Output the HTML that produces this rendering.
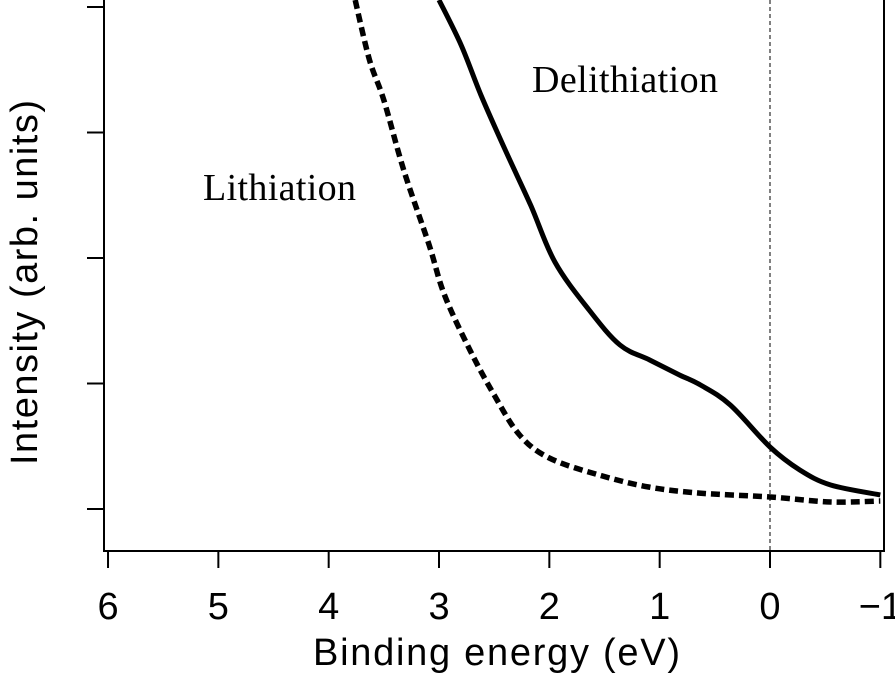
<!DOCTYPE html>
<html><head><meta charset="utf-8"><style>
body{margin:0;background:#fff;width:895px;height:673px;overflow:hidden}
svg{display:block}
</style></head><body>
<svg id="chart" width="895" height="673" xmlns="http://www.w3.org/2000/svg">
<defs><clipPath id="plotclip"><rect x="104" y="0" width="780" height="550"/></clipPath></defs>
<g id="axes"></g>
<g id="series" clip-path="url(#plotclip)"></g>
<text x="532" y="92" font-family="Liberation Serif, serif" font-size="38" textLength="186">Delithiation</text>
<text x="203" y="200" font-family="Liberation Serif, serif" font-size="38" textLength="153">Lithiation</text>
<text x="313" y="665" font-family="Liberation Sans, sans-serif" font-size="38" textLength="367">Binding energy (eV)</text>
<text transform="translate(37,465) rotate(-90)" font-family="Liberation Sans, sans-serif" font-size="38" textLength="365">Intensity (arb. units)</text>
</svg>
<script>
const xTicks=[6,5,4,3,2,1,0,-1];
const xTickLabels=["6","5","4","3","2","1","0","\u22121"];
const yTicks=[1,2,3,4,5];
const delithE=[3.0,2.8,2.62,2.4,2.17,1.95,1.64,1.36,1.09,0.82,0.63,0.36,0,-0.27,-0.55,-1.0];
const delithI=[5.056,4.697,4.299,3.861,3.422,2.968,2.586,2.307,2.187,2.068,1.988,1.829,1.494,1.311,1.191,1.112];
const lithE=[3.76,3.63,3.5,3.32,3.09,2.95,2.72,2.5,2.27,2.0,1.55,1.1,0.64,0,-0.55,-1.0];
const lithI=[5.056,4.578,4.259,3.701,3.104,2.705,2.267,1.908,1.590,1.406,1.271,1.175,1.127,1.096,1.056,1.064];
const NS="http://www.w3.org/2000/svg";
function xs(e){return 770-e*110.33;}
function ys(v){return 509-(v-1)*125.5;}
function mk(t,a,p){const el=document.createElementNS(NS,t);for(const k in a)el.setAttribute(k,a[k]);p.appendChild(el);return el;}
const axes=document.getElementById('axes');
let l=mk('line',{x1:104,y1:0,x2:104,y2:551,stroke:'#000','stroke-width':2},axes);


l=mk('line',{x1:103,y1:551,x2:885,y2:551,stroke:'#000','stroke-width':2},axes);


l=mk('line',{x1:884,y1:0,x2:884,y2:551,stroke:'#000','stroke-width':2},axes);


l=mk('line',{x1:xs(0),y1:0,x2:xs(0),y2:551,stroke:'#000','stroke-width':1,'stroke-dasharray':'4,3'},axes);


xTicks.forEach((t,i)=>{
 const x=xs(t);
 const tk=mk('line',{x1:x,y1:551,x2:x,y2:568,stroke:'#000','stroke-width':2},axes);
 
 
 const tx=mk('text',{x:x,y:619,'text-anchor':'middle','font-family':'Liberation Sans, sans-serif','font-size':38},axes);
 tx.textContent=xTickLabels[i];
 
 
});
yTicks.forEach(t=>{
 const y=ys(t);
 const tk=mk('line',{x1:87,y1:y,x2:104,y2:y,stroke:'#000','stroke-width':2},axes);
 
 
});
const g=document.getElementById('series');
function path(E,I){
 const P=E.map((e,i)=>[xs(e),ys(I[i])]);
 let d='M'+P[0][0].toFixed(1)+','+P[0][1].toFixed(1);
 for(let i=0;i<P.length-1;i++){
  const p0=P[Math.max(0,i-1)],p1=P[i],p2=P[i+1],p3=P[Math.min(P.length-1,i+2)];
  const c1=[p1[0]+(p2[0]-p0[0])/6,p1[1]+(p2[1]-p0[1])/6];
  const c2=[p2[0]-(p3[0]-p1[0])/6,p2[1]-(p3[1]-p1[1])/6];
  d+=' C'+c1.map(v=>v.toFixed(1)).join(',')+' '+c2.map(v=>v.toFixed(1)).join(',')+' '+p2.map(v=>v.toFixed(1)).join(',');
 }
 return d;
}
let p=mk('path',{d:path(delithE,delithI),fill:'none',stroke:'#000','stroke-width':5,'stroke-linejoin':'round'},g);


p=mk('path',{d:path(lithE,lithI),fill:'none',stroke:'#000','stroke-width':5.5,'stroke-dasharray':'9,5'},g);


</script>
</body></html>
